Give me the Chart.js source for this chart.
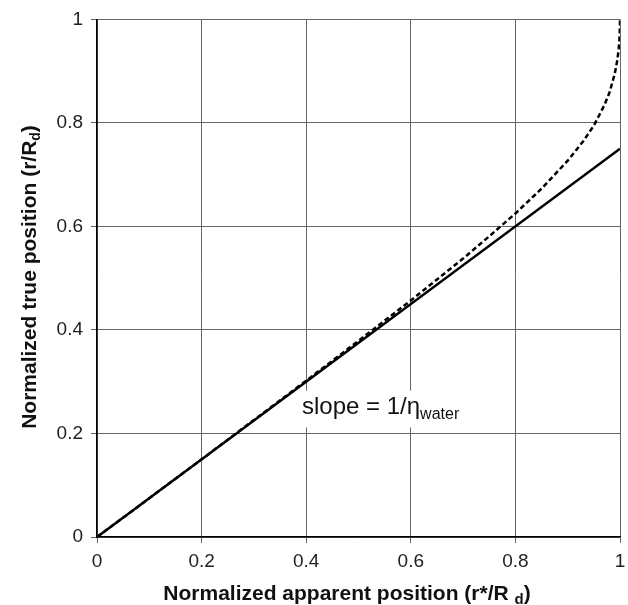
<!DOCTYPE html>
<html>
<head>
<meta charset="utf-8">
<script src="https://cdn.jsdelivr.net/npm/chart.js@4"></script>
<style>
html,body{margin:0;padding:0;background:#fff;}
#wrap{width:628px;height:605px;position:relative;}
</style>
</head>
<body>
<div id="wrap"><canvas id="c" width="628" height="605"></canvas></div>
<script>
// Apparent position (x) and true position (y)
const apparentX = [0, 0.1, 0.2, 0.3, 0.4, 0.5, 0.6, 0.7, 0.75, 0.8, 0.85, 0.9, 0.93, 0.95, 0.97, 0.98, 0.99, 0.995, 0.9975, 0.999, 0.9999, 1];
const trueYDashed = [0, 0.075, 0.150, 0.226, 0.302, 0.379, 0.457, 0.538, 0.581, 0.625, 0.673, 0.727, 0.765, 0.795, 0.834, 0.859, 0.895, 0.922, 0.943, 0.963, 0.988, 1];
const lineX = [0, 1];
const lineY = [0, 0.75];
const axisTicks = [0, 0.2, 0.4, 0.6, 0.8, 1];
const xTitle = ["Normalized apparent position (r*/R ", "d", ")"];
const yTitle = ["Normalized true position (r/R", "d", ")"];
const annotation = ["slope = 1/\u03B7", "water"];

const FONT = "'Liberation Sans', Arial, Helvetica, sans-serif";

const dashedPts = apparentX.map((x, i) => ({x: x, y: trueYDashed[i]}));
const solidPts = lineX.map((x, i) => ({x: x, y: lineY[i]}));

function drawSubText(ctx, parts, sizes, offsets, weight, x, y, align) {
  let widths = parts.map((p, i) => { ctx.font = weight + ' ' + sizes[i] + 'px ' + FONT; return ctx.measureText(p).width; });
  let total = widths.reduce((a, b) => a + b, 0);
  let cx = align === 'center' ? x - total / 2 : x;
  ctx.textAlign = 'left';
  ctx.textBaseline = 'alphabetic';
  parts.forEach((p, i) => {
    ctx.font = weight + ' ' + sizes[i] + 'px ' + FONT;
    ctx.fillText(p, cx, y + offsets[i]);
    cx += widths[i];
  });
  return total;
}

const textPlugin = {
  id: 'texts',
  afterDatasetsDraw(chart) {
    const ctx = chart.ctx;
    const xs = chart.scales.x, ys = chart.scales.y;
    ctx.save();
    const ax = xs.getPixelForValue(0.392);
    const ay = ys.getPixelForValue(0.2385);
    ctx.fillStyle = '#fff';
    ctx.fillRect(ax - 5, ay - 23, 170, 37);
    ctx.fillStyle = '#111';
    drawSubText(ctx, annotation, [24, 16], [0, 5], 'normal', ax, ay, 'left');
    ctx.restore();
  },
  afterDraw(chart) {
    const ctx = chart.ctx;
    ctx.save();
    ctx.fillStyle = '#111';
    drawSubText(ctx, xTitle, [21, 15, 21], [0, 4, 0], 'bold', 347, 600, 'center');
    ctx.translate(36, 277);
    ctx.rotate(-Math.PI / 2);
    drawSubText(ctx, yTitle, [21, 14, 21], [0, 4, 0], 'bold', 0, 0, 'center');
    ctx.restore();
  }
};

new Chart(document.getElementById('c'), {
  type: 'scatter',
  data: {
    datasets: [
      {
        data: solidPts,
        showLine: true,
        borderColor: '#000',
        borderWidth: 2.5,
        pointRadius: 0,
        fill: false
      },
      {
        data: dashedPts,
        showLine: true,
        borderColor: '#000',
        borderWidth: 2.5,
        borderDash: [5, 3],
        pointRadius: 0,
        fill: false,
        tension: 0
      }
    ]
  },
  options: {
    responsive: false,
    animation: false,
    layout: {padding: {top: 16, right: 8, left: 0, bottom: 0}},
    plugins: {legend: {display: false}, tooltip: {enabled: false}},
    scales: {
      x: {
        type: 'linear', min: 0, max: 1,
        afterBuildTicks: (s) => { s.ticks = axisTicks.map(v => ({value: v})); },
        afterFit: (s) => { s.height = 68; s.paddingRight = 0; s.paddingLeft = 0; },
        grid: {color: '#666', lineWidth: 1, tickLength: 6, drawTicks: true},
        border: {color: '#000', width: 1.5},
        ticks: {color: '#222', font: {family: FONT, size: 19}, padding: 7, maxRotation: 0,
                callback: (v) => String(v)}
      },
      y: {
        type: 'linear', min: 0, max: 1,
        afterBuildTicks: (s) => { s.ticks = axisTicks.map(v => ({value: v})); },
        afterFit: (s) => { s.width = 97; },
        grid: {color: '#666', lineWidth: 1, tickLength: 6, drawTicks: true},
        border: {color: '#000', width: 1.5},
        ticks: {color: '#222', font: {family: FONT, size: 19}, padding: 8,
                callback: (v) => String(v)}
      }
    }
  },
  plugins: [textPlugin]
});
</script>
</body>
</html>
